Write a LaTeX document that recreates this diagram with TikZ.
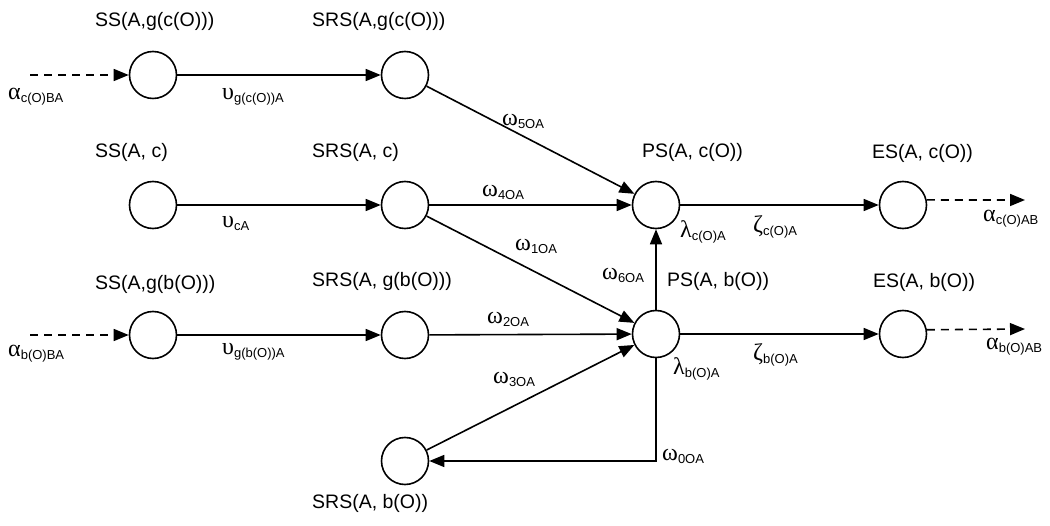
\documentclass[tikz,border=0pt]{standalone}
\usepackage{fontspec}
\setmainfont{Liberation Sans}
\newfontfamily\grkfont{Liberation Serif}
\usetikzlibrary{arrows.meta}
\newcommand{\gsym}[2]{{\fontsize{24}{24}\grkfont #1}\raisebox{-3pt}{\fontsize{13}{14}\selectfont #2}}

\begin{document}
\begin{tikzpicture}[
    x=1pt, y=-1pt,
    font=\fontsize{19.5}{22}\selectfont,
    >={Triangle[length=15pt,width=12pt]},
    st/.style={circle, draw, line width=1.6pt, minimum size=47pt, inner sep=0pt},
    arr/.style={->, line width=1.6pt},
    ext/.style={->, line width=1.6pt, dash pattern=on 8pt off 6pt},
    nm/.style={anchor=west, inner sep=0pt},
    wt/.style={anchor=west, inner sep=0pt},
  ]
  \useasboundingbox (0,0) rectangle (1050,526);
  % states
  \node[st] (ssgc)  at (153,75)  {};
  \node[st] (srsgc) at (405,75)  {};
  \node[st] (ssc)   at (153,205) {};
  \node[st] (srsc)  at (405,205) {};
  \node[st] (psc)   at (656,205) {};
  \node[st] (esc)   at (903,205) {};
  \node[st] (ssgb)  at (153,335) {};
  \node[st] (srsgb) at (405,335) {};
  \node[st] (psb)   at (656,334) {};
  \node[st] (esb)   at (903,334) {};
  \node[st] (srsb)  at (405,461) {};
  % state names
  \node[nm] (nssgc)  at (95,21)   {SS(A,g(c(O)))};
  \node[nm] (nsrsgc) at (312,21)  {SRS(A,g(c(O)))};
  \node[nm] (nssc)   at (95,152)  {SS(A, c)};
  \node[nm] (nsrsc)  at (312,152) {SRS(A, c)};
  \node[nm] (npsc)   at (642,152) {PS(A, c(O))};
  \node[nm] (nesc)   at (872,153) {ES(A, c(O))};
  \node[nm] (nssgb)  at (95,284)  {SS(A,g(b(O)))};
  \node[nm] (nsrsgb) at (312,281) {SRS(A, g(b(O)))};
  \node[nm] (npsb)   at (667,281) {PS(A, b(O))};
  \node[nm] (nesb)   at (873,282) {ES(A, b(O))};
  \node[nm] (nsrsb)  at (312,503) {SRS(A, b(O))};
  % free ends
  \coordinate (inc)  at (30,75);
  \coordinate (inb)  at (30,335);
  \coordinate (outc) at (1025,200);
  \coordinate (outb) at (1025,329);
  \coordinate (bend) at (656,461);
  % arrows
  \draw[ext] (inc) -- (ssgc);
  \draw[ext] (inb) -- (ssgb);
  \draw[arr] (ssgc) -- (srsgc);
  \draw[arr] (ssc) -- (srsc);
  \draw[arr] (ssgb) -- (srsgb);
  \draw[arr] (srsgc) -- (psc);
  \draw[arr] (srsc) -- (psc);
  \draw[arr] (srsc) -- (psb);
  \draw[arr] (srsgb) -- (psb);
  \draw[arr] (srsb) -- (psb);
  \draw[arr] (psb) -- (psc);
  \draw[arr] (psb) -- (bend) -- (srsb);
  \draw[arr] (psc) -- (esc);
  \draw[arr] (psb) -- (esb);
  \draw[ext] (esc.12) -- (outc);
  \draw[ext] (esb.10) -- (outb);
  % rates
  \node[wt] (aic) at (8,97)    {\gsym{α}{c(O)BA}};
  \node[wt] (aib) at (8,354)   {\gsym{α}{b(O)BA}};
  \node[wt] (ugc) at (222,97)  {\gsym{υ}{g(c(O))A}};
  \node[wt] (uc)  at (222,223) {\gsym{υ}{cA}};
  \node[wt] (ugb) at (222,352) {\gsym{υ}{g(b(O))A}};
  \node[wt] (w5)  at (502,121) {\gsym{ω}{5OA}};
  \node[wt] (w4)  at (482,192) {\gsym{ω}{4OA}};
  \node[wt] (w1)  at (515,246) {\gsym{ω}{1OA}};
  \node[wt] (w6)  at (602,275) {\gsym{ω}{6OA}};
  \node[wt] (w2)  at (487,319) {\gsym{ω}{2OA}};
  \node[wt] (w3)  at (493,379) {\gsym{ω}{3OA}};
  \node[wt] (w0)  at (662,456) {\gsym{ω}{0OA}};
  \node[wt] (lc)  at (680,232) {\gsym{λ}{c(O)A}};
  \node[wt] (lb)  at (673,369) {\gsym{λ}{b(O)A}};
  \node[wt] (zc)  at (753,227) {\gsym{ζ}{c(O)A}};
  \node[wt] (zb)  at (753,355) {\gsym{ζ}{b(O)A}};
  \node[wt] (aoc) at (983,219) {\gsym{α}{c(O)AB}};
  \node[wt] (aob) at (986,347) {\gsym{α}{b(O)AB}};
\end{tikzpicture}
\end{document}
